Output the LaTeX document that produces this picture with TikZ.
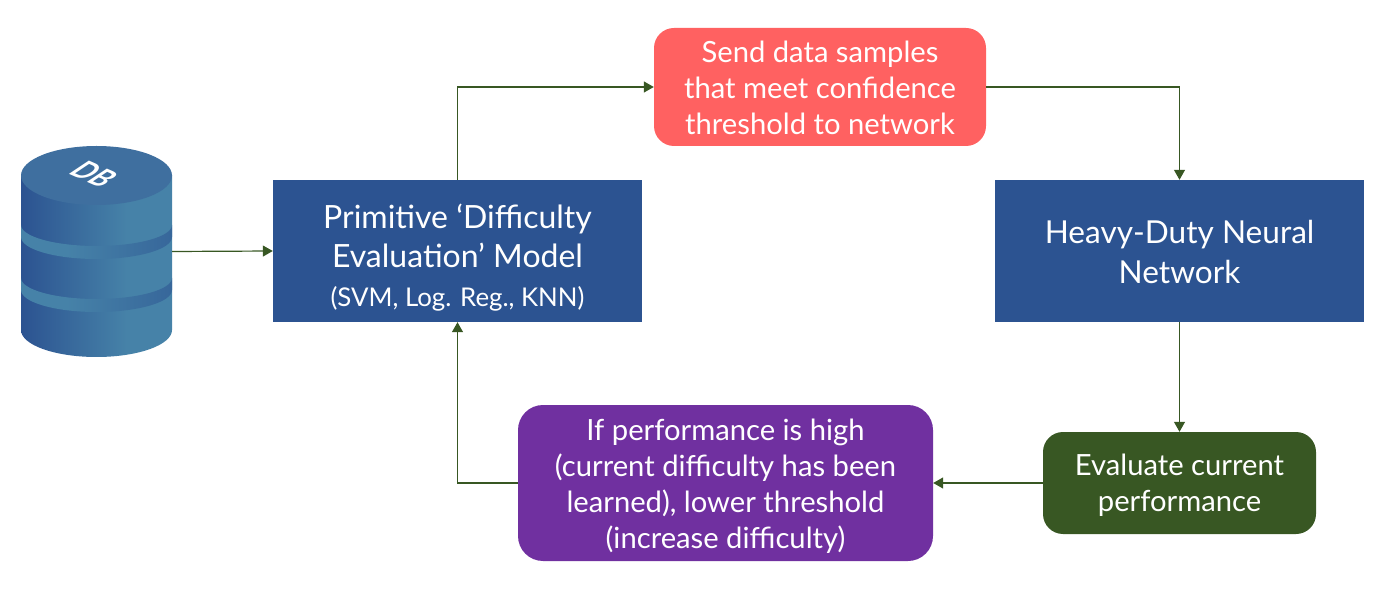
\documentclass[tikz,border=0pt]{standalone}
\usepackage{fontspec}
\setmainfont{Lato}
\usetikzlibrary{arrows.meta}
\definecolor{boxblue}{HTML}{2C5391}
\definecolor{boxred}{HTML}{FF6161}
\definecolor{boxgreen}{HTML}{385723}
\definecolor{boxpurple}{HTML}{7030A0}
\definecolor{dbtop}{HTML}{3F6F9F}
\definecolor{dblight}{HTML}{4682A8}
\pgfdeclarehorizontalshading{dbbody}{100bp}{
 color(0bp)=(boxblue!85!black); color(15bp)=(boxblue); color(25bp)=(boxblue); color(60bp)=(dblight); color(85bp)=(dblight); color(100bp)=(dblight!85!white)}
\pgfdeclarehorizontalshading{dbband}{100bp}{
 color(0bp)=(dblight); color(40bp)=(dblight); color(100bp)=(boxblue)}
\newcommand{\lowered}[3]{{#1\raisebox{#2}[0pt][0pt]{\begin{tabular}{@{}c@{}}#3\end{tabular}}}}
\newcommand{\fa}{\fontsize{29.2}{36}\selectfont}
\newcommand{\fb}{\fontsize{32}{39}\selectfont}
\newcommand{\fc}{\fontsize{31.6}{40}\selectfont}
\tikzset{
 flat/.style={fill=boxblue,minimum width=369,minimum height=142,inner sep=0,align=center,text=white},
 soft/.style={rounded corners=#1,inner sep=0,align=center,text=white},
 link/.style={draw=boxgreen,line width=1.2,-{Triangle[length=10,width=11]}},
}
\begin{document}
\begin{tikzpicture}[x=1pt,y=-1pt]
\useasboundingbox (0,0) rectangle (1400,593);
% database
\node[minimum width=151,minimum height=211,inner sep=0] (db) at (96.5,251.5) {};
\shade[shading=dbbody] (21,175) -- (21,330) arc[start angle=180,end angle=0,x radius=75.5,y radius=27] -- (172,175) -- cycle;
\shade[shading=dbband] (21,225) arc[start angle=180,end angle=0,x radius=75.5,y radius=21] -- (172,237) arc[start angle=0,end angle=180,x radius=75.5,y radius=22] -- cycle;
\shade[shading=dbband] (21,278) arc[start angle=180,end angle=0,x radius=75.5,y radius=21] -- (172,290) arc[start angle=0,end angle=180,x radius=75.5,y radius=22] -- cycle;
\fill[dbtop] (96.5,175.5) ellipse[x radius=75.5,y radius=29.5];
\node[text=white,inner sep=0,font=\fontsize{23}{23}\bfseries\selectfont,cm={1.03,-0.45,1.2,0.8,(94,174)}] (dbname) at (0,0) {DB};
% boxes
\node[flat] (model) at (457.5,251) {\lowered{\fb}{-14.5pt}{Primitive ‘Difficulty\\Evaluation’ Model\\{\fontsize{25.8}{39}\selectfont (SVM, Log. Reg., KNN)}}};
\node[flat] (net) at (1179.5,251) {\lowered{\fc}{-11pt}{Heavy-Duty Neural\\Network}};
\node[soft=20,fill=boxred,minimum width=332,minimum height=118] (red) at (820,87) {\lowered{\fa}{-11pt}{Send data samples\\that meet confidence\\threshold to network}};
\node[soft=20,fill=boxgreen,minimum width=273,minimum height=102] (green) at (1179.5,483) {\lowered{\fa}{-10pt}{Evaluate current\\performance}};
\node[soft=25,fill=boxpurple,minimum width=415,minimum height=156] (purple) at (725.5,483) {\lowered{\fa}{-11pt}{If performance is high\\(current difficulty has been\\learned), lower threshold\\(increase difficulty)}};
% connectors
\draw[link] (db.east) -- (model.west);
\draw[link] (model.north) |- (red.west);
\draw[link] (red.east) -| (net.north);
\draw[link] (net.south) -- (green.north);
\draw[link] (green.west) -- (purple.east);
\draw[link] (purple.west) -| (model.south);
\end{tikzpicture}
\end{document}
